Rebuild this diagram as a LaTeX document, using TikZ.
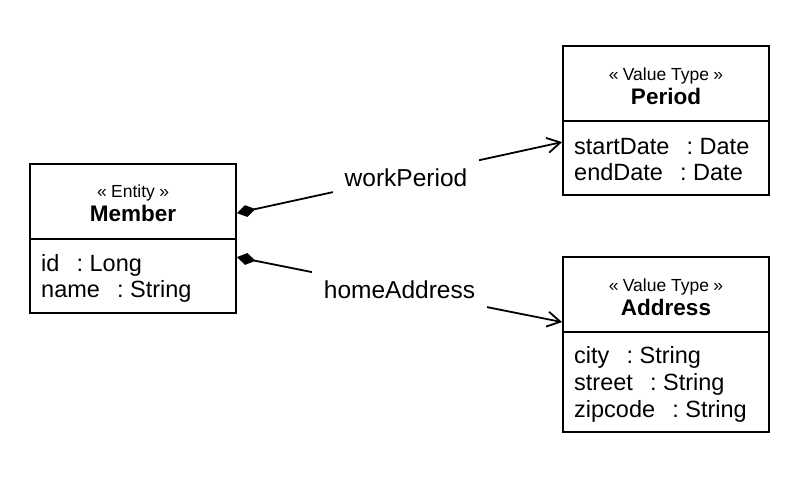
\documentclass[tikz,border=0pt]{standalone}
\usepackage{fontspec}
\setmainfont{Liberation Sans}
\usetikzlibrary{arrows.meta,calc}
\newcommand{\myCln}{\ \kern.45em:\ }
\newcommand{\myLg}{«\kern.25em}
\newcommand{\myRg}{\kern.25em»}
\begin{document}
\begin{tikzpicture}[x=1pt,y=-1pt,
  box/.style={draw, line width=1.8pt, inner sep=0pt, minimum width=206pt},
  stereo/.style={font=\fontsize{17.5}{19}\selectfont, anchor=base, inner sep=0pt},
  cname/.style={font=\bfseries\fontsize{22.5}{25}\selectfont, anchor=base, inner sep=0pt},
  attr/.style={font=\fontsize{23.5}{26}\selectfont, anchor=base west, inner sep=0pt},
  lbl/.style={font=\fontsize{24.5}{27}\selectfont, fill=white, inner xsep=12pt, inner ysep=11pt},
  divider/.style={line width=1.8pt},
  comp/.style={line width=1.8pt, {Diamond[length=19pt,width=12pt]}-{Straight Barb[length=13pt,width=15pt,line width=1.8pt]}}
]
\useasboundingbox (0,0) rectangle (804,486);

% Member
\node[box, minimum height=149pt] (member) at (133,238.5) {};
\node[stereo] (memberst) at (133,198) {\myLg Entity\myRg};
\node[cname] (membername) at (133,222) {Member};
\draw[divider] (member.west |- 0,239) -- (member.east |- 0,239);
\node[attr] (mid) at (41,272) {id\myCln Long};
\node[attr] (mname) at (41,298) {name\myCln String};

% Period
\node[box, minimum height=149pt] (period) at (666,120.5) {};
\node[stereo] (periodst) at (666,81) {\myLg Value Type\myRg};
\node[cname] (periodname) at (666,105) {Period};
\draw[divider] (period.west |- 0,121) -- (period.east |- 0,121);
\node[attr] (pstart) at (574,155) {startDate\myCln Date};
\node[attr] (pend) at (574,181) {endDate\myCln Date};

% Address
\node[box, minimum height=175pt] (address) at (666,344.5) {};
\node[stereo] (addressst) at (666,292) {\myLg Value Type\myRg};
\node[cname] (addressname) at (666,316) {Address};
\draw[divider] (address.west |- 0,332) -- (address.east |- 0,332);
\node[attr] (acity) at (574,364) {city\myCln String};
\node[attr] (astreet) at (574,391) {street\myCln String};
\node[attr] (azip) at (574,418) {zipcode\myCln String};

% connector end points
\coordinate (m1) at ($(member.north east)+(0,50)$);
\coordinate (m2) at ($(member.north east)+(0,94)$);
\coordinate (p1) at ($(period.north west)+(0,97)$);
\coordinate (a1) at ($(address.north west)+(0,66)$);

\draw[comp] (m1) -- node[lbl, pos=0.52, yshift=-2pt] (wp) {workPeriod} (p1);
\draw[comp] (m2) -- node[lbl, pos=0.5] (ha) {homeAddress} (a1);
\end{tikzpicture}
\end{document}
